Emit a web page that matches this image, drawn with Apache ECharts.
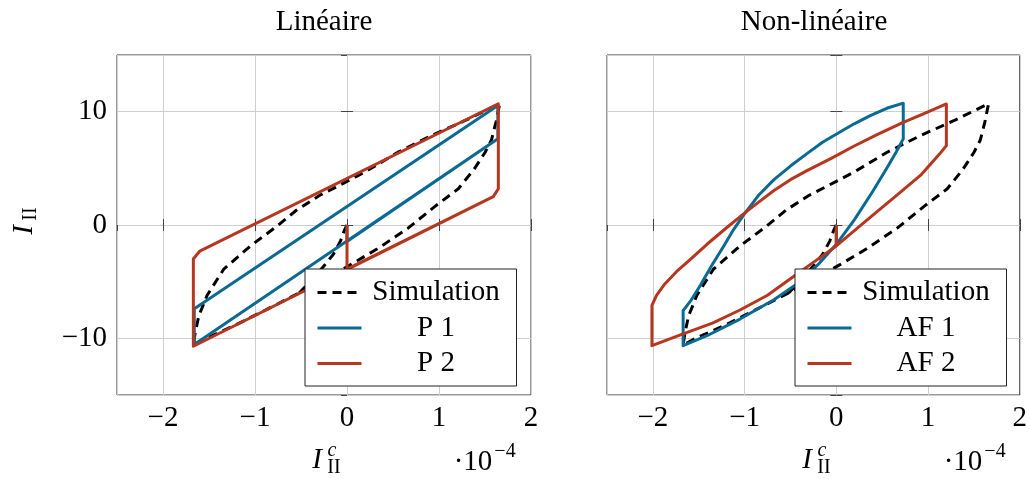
<!DOCTYPE html>
<html>
<head>
<meta charset="utf-8">
<title>Linéaire / Non-linéaire</title>
<script src="https://cdn.jsdelivr.net/npm/echarts@6/dist/echarts.min.js"></script>
<style>
  html, body { margin: 0; padding: 0; background: #fff; }
  #chart { width: 1030px; height: 479px; }
</style>
</head>
<body>
<div id="chart"></div>
<script>
var FONT = '"Liberation Serif", "Times New Roman", serif';
var BLUE = '#0b6a93';
var RED = '#b6361f';

// I_II^c en unites de 1e-4, I_II en valeur brute
var simulation = [
    [0, 0], [-0.03, -0.5], [-0.07, -1.4], [-0.15, -2.6], [-0.26, -3.7], [-0.38, -4.8], [-0.52, -6.0],
    [-0.2, -4.6], [0.04, -3.5], [0.33, -2.1], [0.66, -0.3], [0.95, 1.6], [1.21, 3.2], [1.38, 4.9],
    [1.5, 6.4], [1.57, 7.5], [1.62, 9.1], [1.66, 10.7],
    [1.28, 9.2], [0.92, 7.9], [0.55, 6.4], [0.19, 4.65], [0, 3.85], [-0.3, 2.6], [-0.55, 1.3],
    [-0.76, -0.1], [-1.05, -1.85], [-1.34, -3.9], [-1.52, -6.2], [-1.61, -8.0], [-1.65, -9.5], [-1.67, -10.6],
    [-1.56, -10.1], [-1.23, -8.9], [-0.86, -7.4], [-0.52, -6.0]
];
var p1 = [
    [0, 0], [0, -1.45], [1.64, 7.6], [1.64, 10.55], [-1.66, -7.4], [-1.66, -10.55], [1.64, 7.6]
];
var p2 = [
    [0, 0], [0, -3.9], [1.59, 2.5], [1.645, 3.2], [1.645, 10.7], [-1.6, -2.3], [-1.67, -3.0],
    [-1.67, -10.7], [1.59, 2.5]
];
var af1 = [
    [0, 0], [0, -1.7], [0.2, 0.5], [0.4, 3.0], [0.55, 5.0], [0.65, 6.4], [0.73, 7.6], [0.73, 10.75],
    [0.55, 10.3], [0.37, 9.65], [0.2, 8.95], [0.04, 8.2], [-0.15, 7.3], [-0.32, 6.3], [-0.5, 5.2],
    [-0.68, 4.0], [-0.85, 2.6], [-1.0, 1.0], [-1.12, -0.4], [-1.23, -1.9], [-1.36, -3.6], [-1.48, -5.3],
    [-1.58, -6.6], [-1.67, -7.56], [-1.67, -10.65], [-1.41, -9.77], [-1.05, -8.3], [-0.68, -6.6],
    [-0.43, -5.2], [-0.2, -3.5], [0, -1.7], [0.2, 0.5]
];
var af2 = [
    [0, 0], [0, -1.85], [0.33, 0.4], [0.7, 2.9], [0.92, 4.4], [1.13, 6.3], [1.2, 7.0], [1.2, 10.68],
    [0.95, 9.8], [0.73, 9.06], [0.45, 8.0], [0.19, 6.95], [-0.05, 5.9], [-0.32, 4.8], [-0.5, 4.0],
    [-0.68, 3.05], [-0.85, 2.0], [-0.97, 1.25], [-1.19, -0.2], [-1.41, -1.7], [-1.6, -3.1],
    [-1.74, -4.1], [-1.87, -5.2], [-1.96, -6.2], [-2.01, -7.1], [-2.01, -10.65], [-1.67, -9.6],
    [-1.35, -8.65], [-1.05, -7.5], [-0.75, -6.2], [-0.5, -4.75], [-0.25, -3.3], [0, -1.85], [0.33, 0.4]
];

var titles = ['Linéaire', 'Non-linéaire'];
var legendLeft = ['Simulation', 'P 1', 'P 2'];
var legendRight = ['Simulation', 'AF 1', 'AF 2'];
var xRange = [-2.5, 2];
var yRange = [-15, 15];

var grids = [
    {left: 117, top: 55, width: 414, height: 340},
    {left: 607, top: 55, width: 414, height: 340}
];

function minus(v) {
    return String(v).replace('-', '\u2212');
}

function xAxes(g) {
    var base = {
        gridIndex: g, type: 'value', min: xRange[0], max: xRange[1], splitNumber: 5
    };
    return [
        Object.assign({}, base, {
            position: 'bottom',
            axisLine: {show: false},
            axisTick: {show: true, inside: true, length: 6, lineStyle: {color: '#444'}},
            axisLabel: {
                show: true, margin: 9, color: '#000', fontFamily: FONT, fontSize: 29,
                showMinLabel: false,
                formatter: function (v) { return Number.isInteger(v) ? minus(v) : ''; }
            },
            splitLine: {show: true, lineStyle: {color: '#cfcfcf', width: 1}}
        }),
        Object.assign({}, base, {
            position: 'top',
            axisLine: {show: false},
            axisTick: {show: true, inside: true, length: 6, lineStyle: {color: '#444'}},
            axisLabel: {show: false},
            splitLine: {show: false}
        })
    ];
}

function yAxes(g) {
    var base = {
        gridIndex: g, type: 'value', min: yRange[0], max: yRange[1], splitNumber: 3
    };
    return [
        Object.assign({}, base, {
            position: 'left',
            axisLine: {show: false},
            axisTick: {show: true, inside: true, length: 6, lineStyle: {color: '#444'}},
            axisLabel: {
                show: g === 0, margin: 10, color: '#000', fontFamily: FONT, fontSize: 29,
                showMinLabel: false, showMaxLabel: false,
                formatter: function (v) { return v % 10 === 0 ? minus(v) : ''; }
            },
            splitLine: {show: true, lineStyle: {color: '#cfcfcf', width: 1}}
        }),
        Object.assign({}, base, {
            position: 'right',
            axisLine: {show: false},
            axisTick: {show: true, inside: true, length: 6, lineStyle: {color: '#444'}},
            axisLabel: {show: false},
            splitLine: {show: false}
        })
    ];
}

function courbe(name, data, color, g, dashed) {
    return {
        name: name,
        type: 'line',
        xAxisIndex: g * 2,
        yAxisIndex: g * 2,
        data: data,
        symbol: 'none',
        showSymbol: false,
        smooth: false,
        silent: true,
        lineStyle: {color: color, width: 3, type: dashed ? [9, 6] : 'solid', join: 'round'},
        itemStyle: {color: color},
        emphasis: {disabled: true}
    };
}

function legende(names, left) {
    return {
        data: names,
        orient: 'vertical',
        left: left,
        top: 269,
        padding: [9, 11, 8, 11],
        itemWidth: 44,
        itemHeight: 14,
        itemGap: 6.5,
        itemTextGap: 6,
        selectedMode: false,
        backgroundColor: '#fff',
        borderColor: '#222',
        borderWidth: 1,
        borderRadius: 0,
        lineStyle: {width: 3},
        itemStyle: {opacity: 0},
        formatter: function (name) { return '{a|' + name + '}'; },
        textStyle: {
            color: '#000', fontFamily: FONT, fontSize: 29,
            rich: {a: {width: 139, align: 'center', fontFamily: FONT, fontSize: 29, lineHeight: 30}}
        }
    };
}

function txt(x, y, text, size, italic, rotate) {
    return {
        type: 'text', x: x, y: y, rotation: rotate ? Math.PI / 2 : 0, silent: true,
        style: {
            text: text, fill: '#000', align: 'center', verticalAlign: 'middle',
            font: (italic ? 'italic ' : '') + size + 'px ' + FONT
        }
    };
}

var graphics = [
    txt(324, 22, titles[0], 29, false),
    txt(814, 22, titles[1], 29, false),
    // I_II vertical
    txt(24, 230, 'I', 29, true, true),
    txt(31, 214, 'II', 20, false, true)
];
[0, 490].forEach(function (dx) {
    graphics.push(txt(317 + dx, 460, 'I', 29, true));
    graphics.push(txt(332 + dx, 451, 'c', 20, true));
    graphics.push(txt(334 + dx, 468, 'II', 20, false));
    graphics.push(txt(473 + dx, 462, '\u00b710', 29, false));
    graphics.push(txt(505 + dx, 452, '\u22124', 20, false));
});

var option = {
    backgroundColor: '#fff',
    animation: false,
    grid: grids.map(function (g) {
        return Object.assign({show: true, borderColor: '#333', borderWidth: 1, backgroundColor: 'transparent'}, g);
    }),
    xAxis: xAxes(0).concat(xAxes(1)),
    yAxis: yAxes(0).concat(yAxes(1)),
    legend: [legende(legendLeft, 305), legende(legendRight, 795)],
    series: [
        courbe('Simulation', simulation, '#000', 0, true),
        courbe('P 1', p1, BLUE, 0, false),
        courbe('P 2', p2, RED, 0, false),
        courbe('Simulation', simulation, '#000', 1, true),
        courbe('AF 1', af1, BLUE, 1, false),
        courbe('AF 2', af2, RED, 1, false)
    ],
    graphic: graphics
};

var chart = echarts.init(document.getElementById('chart'));
chart.setOption(option);
</script>
</body>
</html>
